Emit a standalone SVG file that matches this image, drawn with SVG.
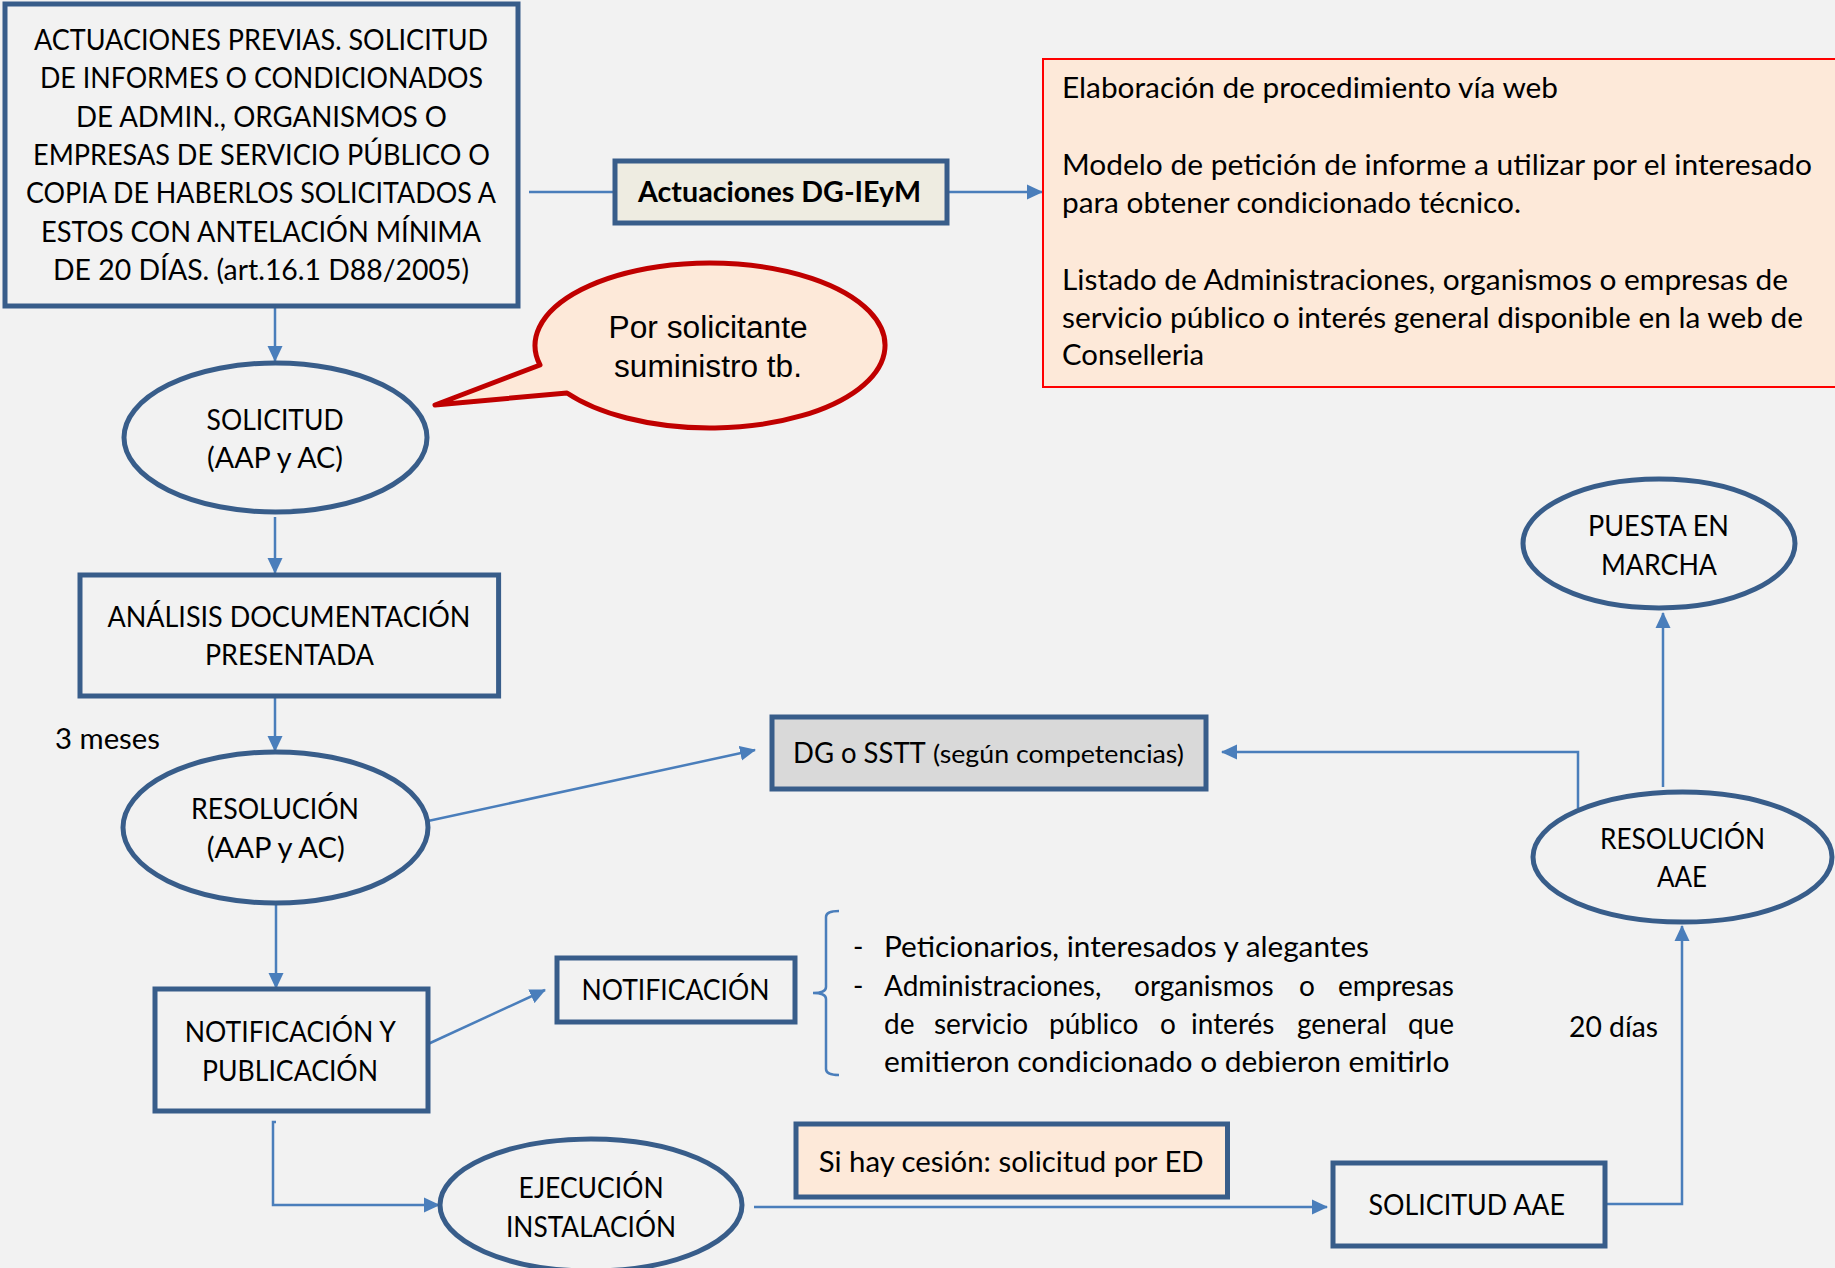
<svg xmlns="http://www.w3.org/2000/svg" width="1835" height="1268" viewBox="0 0 1835 1268">
<style>
.t{font-family:Lato,'Liberation Sans',sans-serif;font-size:28px;fill:#000}
.b{font-weight:bold}
.a{font-family:'Liberation Sans',Arial,sans-serif;font-size:31px;fill:#000}
.node{stroke:#385D8A;stroke-width:5;fill:#F2F2F2}
.con{stroke:#4A7EBB;stroke-width:2.5;fill:none}
</style>
<defs>
<marker id="ah" markerUnits="userSpaceOnUse" markerWidth="16" markerHeight="16" viewBox="0 0 16 16" refX="15" refY="8" orient="auto">
<path d="M0,0.5 L16,8 L0,15.5 Z" fill="#4A7EBB"/>
</marker>
</defs>
<rect x="0" y="0" width="1835" height="1268" fill="#F2F2F2"/>

<g id="connectors">
<path class="con" d="M529,192 H947"/>
<path class="con" d="M947,192 H1042" marker-end="url(#ah)"/>
<path class="con" d="M275,307 V361" marker-end="url(#ah)"/>
<path class="con" d="M275,517 V573" marker-end="url(#ah)"/>
<path class="con" d="M275,696 V751" marker-end="url(#ah)"/>
<path class="con" d="M428,821 L755,750" marker-end="url(#ah)"/>
<path class="con" d="M276,903 V988" marker-end="url(#ah)"/>
<path class="con" d="M428,1044 L545,990" marker-end="url(#ah)"/>
<path class="con" d="M276,1122 H273 V1205 H439" marker-end="url(#ah)"/>
<path class="con" d="M754,1207 H1327" marker-end="url(#ah)"/>
<path class="con" d="M1606,1204 H1682 V926" marker-end="url(#ah)"/>
<path class="con" d="M1663,787 V613" marker-end="url(#ah)"/>
<path class="con" d="M1578,808 V752 H1222" marker-end="url(#ah)"/>
<path class="con" d="M839,911 Q826,911 826,917 V987 Q826,993 813,993 Q826,993 826,999 V1069 Q826,1075 839,1075" stroke-width="1.8"/>
</g>

<g id="actuaciones-previas">
<rect class="node" x="5" y="4" width="513" height="302"/>
<text class="t" x="34" y="50" textLength="454" lengthAdjust="spacingAndGlyphs">ACTUACIONES PREVIAS. SOLICITUD</text>
<text class="t" x="40" y="88" textLength="443" lengthAdjust="spacingAndGlyphs">DE INFORMES O CONDICIONADOS</text>
<text class="t" x="76" y="127" textLength="371" lengthAdjust="spacingAndGlyphs">DE ADMIN., ORGANISMOS O</text>
<text class="t" x="33" y="165" textLength="457" lengthAdjust="spacingAndGlyphs">EMPRESAS DE SERVICIO PÚBLICO O</text>
<text class="t" x="26" y="203" textLength="470" lengthAdjust="spacingAndGlyphs">COPIA DE HABERLOS SOLICITADOS A</text>
<text class="t" x="41" y="242" textLength="440" lengthAdjust="spacingAndGlyphs">ESTOS CON ANTELACIÓN MÍNIMA</text>
<text class="t" x="53" y="280" textLength="416" lengthAdjust="spacingAndGlyphs">DE 20 DÍAS. (art.16.1 D88/2005)</text>
</g>

<g id="actuaciones-dg">
<rect x="615" y="161" width="332" height="62" fill="#EEECE1" stroke="#385D8A" stroke-width="5"/>
<text class="t b" x="638" y="202" textLength="283" lengthAdjust="spacingAndGlyphs">Actuaciones DG-IEyM</text>
</g>

<g id="web">
<rect x="1043" y="59" width="800" height="328" fill="#FDE9D9" stroke="#FF0000" stroke-width="2"/>
<text class="t" x="1062" y="98" textLength="496" lengthAdjust="spacingAndGlyphs">Elaboración de procedimiento vía web</text>
<text class="t" x="1062" y="175" textLength="750" lengthAdjust="spacingAndGlyphs">Modelo de petición de informe a utilizar por el interesado</text>
<text class="t" x="1062" y="213" textLength="459" lengthAdjust="spacingAndGlyphs">para obtener condicionado técnico.</text>
<text class="t" x="1062" y="290" textLength="726" lengthAdjust="spacingAndGlyphs">Listado de Administraciones, organismos o empresas de</text>
<text class="t" x="1062" y="328" textLength="741" lengthAdjust="spacingAndGlyphs">servicio público o interés general disponible en la web de</text>
<text class="t" x="1062" y="365" textLength="142" lengthAdjust="spacingAndGlyphs">Conselleria</text>
</g>

<g id="bubble">
<path d="M540,365 L435,405 L567,393 A175,82.5 0 1 0 540,365 Z" fill="#FDE9D9" stroke="#C00000" stroke-width="5" stroke-linejoin="round"/>
<text class="a" x="608.6" y="338" textLength="199" lengthAdjust="spacingAndGlyphs">Por solicitante</text>
<text class="a" x="614" y="377" textLength="188" lengthAdjust="spacingAndGlyphs">suministro tb.</text>
</g>

<g id="solicitud">
<ellipse class="node" cx="275.5" cy="437.5" rx="151.5" ry="74.5"/>
<text class="t" x="206.6" y="430" textLength="137" lengthAdjust="spacingAndGlyphs">SOLICITUD</text>
<text class="t" x="207" y="468" textLength="136" lengthAdjust="spacingAndGlyphs">(AAP y AC)</text>
</g>

<g id="analisis">
<rect class="node" x="80" y="575" width="418.6" height="121"/>
<text class="t" x="107.4" y="627" textLength="363" lengthAdjust="spacingAndGlyphs">ANÁLISIS DOCUMENTACIÓN</text>
<text class="t" x="205" y="665" textLength="169" lengthAdjust="spacingAndGlyphs">PRESENTADA</text>
</g>

<g id="label-3meses">
<text class="t" x="55" y="749" textLength="105" lengthAdjust="spacingAndGlyphs">3 meses</text>
</g>

<g id="resolucion">
<ellipse class="node" cx="275.5" cy="827.5" rx="152.5" ry="75.5"/>
<text class="t" x="191" y="819" textLength="168" lengthAdjust="spacingAndGlyphs">RESOLUCIÓN</text>
<text class="t" x="206.7" y="858" textLength="138" lengthAdjust="spacingAndGlyphs">(AAP y AC)</text>
</g>

<g id="dg-sstt">
<rect x="772" y="717" width="434" height="72" fill="#D9D9D9" stroke="#385D8A" stroke-width="5"/>
<text class="t" y="763"><tspan x="793" textLength="132" lengthAdjust="spacingAndGlyphs">DG o SSTT</tspan> <tspan x="933" font-size="25" textLength="251" lengthAdjust="spacingAndGlyphs">(según competencias)</tspan></text>
</g>

<g id="notif-pub">
<rect class="node" x="155" y="989" width="273" height="122"/>
<text class="t" x="184.8" y="1042" textLength="211" lengthAdjust="spacingAndGlyphs">NOTIFICACIÓN Y</text>
<text class="t" x="202" y="1081" textLength="176" lengthAdjust="spacingAndGlyphs">PUBLICACIÓN</text>
</g>

<g id="notificacion">
<rect class="node" x="557" y="958" width="238" height="64"/>
<text class="t" x="581.5" y="1000" textLength="188" lengthAdjust="spacingAndGlyphs">NOTIFICACIÓN</text>
</g>

<g id="destinatarios">
<text class="t" x="853" y="957">-</text>
<text class="t" x="884" y="957" textLength="485" lengthAdjust="spacingAndGlyphs">Peticionarios, interesados y alegantes</text>
<text class="t" x="853" y="996">-</text>
<text class="t" y="996"><tspan x="884">Administraciones,</tspan> <tspan x="1134">organismos</tspan> <tspan x="1299">o</tspan> <tspan x="1454" text-anchor="end">empresas</tspan></text>
<text class="t" y="1034"><tspan x="884">de</tspan> <tspan x="934">servicio</tspan> <tspan x="1049">público</tspan> <tspan x="1160">o</tspan> <tspan x="1191">interés</tspan> <tspan x="1297">general</tspan> <tspan x="1454" text-anchor="end">que</tspan></text>
<text class="t" x="884" y="1072" textLength="565.5" lengthAdjust="spacingAndGlyphs">emitieron condicionado o debieron emitirlo</text>
</g>

<g id="ejecucion">
<ellipse class="node" cx="591" cy="1205" rx="151" ry="66"/>
<text class="t" x="518.6" y="1198" textLength="145" lengthAdjust="spacingAndGlyphs">EJECUCIÓN</text>
<text class="t" x="506" y="1237" textLength="170" lengthAdjust="spacingAndGlyphs">INSTALACIÓN</text>
</g>

<g id="cesion">
<rect x="796" y="1124" width="431.5" height="73" fill="#FDE9D9" stroke="#385D8A" stroke-width="5"/>
<text class="t" x="818.7" y="1172" textLength="385" lengthAdjust="spacingAndGlyphs">Si hay cesión: solicitud por ED</text>
</g>

<g id="solicitud-aae">
<rect class="node" x="1333" y="1163" width="272" height="83"/>
<text class="t" x="1368.5" y="1215" textLength="196.5" lengthAdjust="spacingAndGlyphs">SOLICITUD AAE</text>
</g>

<g id="label-20dias">
<text class="t" x="1569" y="1037" textLength="89" lengthAdjust="spacingAndGlyphs">20 días</text>
</g>

<g id="resolucion-aae">
<ellipse class="node" cx="1682.5" cy="857" rx="149.5" ry="65"/>
<text class="t" x="1600" y="849" textLength="165" lengthAdjust="spacingAndGlyphs">RESOLUCIÓN</text>
<text class="t" x="1657" y="887" textLength="50" lengthAdjust="spacingAndGlyphs">AAE</text>
</g>

<g id="puesta-marcha">
<ellipse class="node" cx="1659" cy="543.5" rx="136" ry="64.5"/>
<text class="t" x="1588" y="536" textLength="141" lengthAdjust="spacingAndGlyphs">PUESTA EN</text>
<text class="t" x="1601" y="575" textLength="116" lengthAdjust="spacingAndGlyphs">MARCHA</text>
</g>
</svg>
